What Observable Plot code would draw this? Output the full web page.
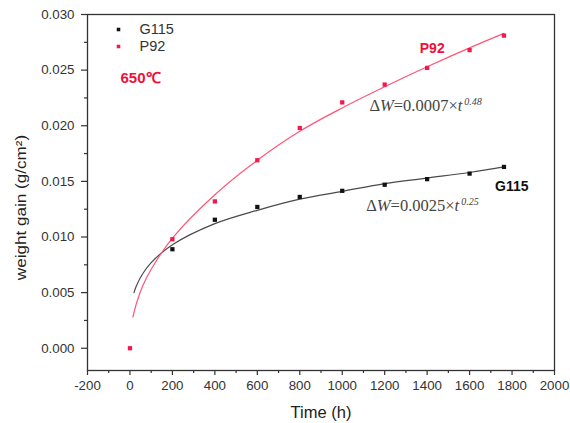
<!DOCTYPE html>
<html>
<head>
<meta charset="utf-8">
<script src="https://cdn.jsdelivr.net/npm/d3@7"></script>
<script src="https://cdn.jsdelivr.net/npm/@observablehq/plot@0.6"></script>
<style>
  html, body { margin: 0; padding: 0; background: #fff; }
  #chart svg { display: block; }
</style>
</head>
<body>
<div id="chart"></div>
<script>
// Oxidation weight gain at 650 °C, measured points per alloy
const seriesNames = ["G115", "P92"];
const seriesColors = ["#111111", "#f5164a"];
const curveColors = ["#4a4a4a", "#ff5577"];

const g115Time = [200, 400, 600, 800, 1000, 1200, 1400, 1600, 1762];
const g115Gain = [0.0089, 0.01155, 0.0127, 0.0136, 0.01415, 0.0147, 0.0152, 0.0157, 0.0163];

const p92Time = [0, 200, 400, 600, 800, 1000, 1200, 1400, 1600, 1762];
const p92Gain = [0, 0.0098, 0.0132, 0.0169, 0.0198, 0.0221, 0.0237, 0.0252, 0.0268, 0.0281];

// Power-law fit curves, sampled along time
const g115FitTime = [19, 30, 60, 100, 200, 400, 600, 800, 1000, 1200, 1400, 1600, 1762];
const g115FitGain = [0.0050, 0.0056, 0.0067, 0.0077, 0.0093, 0.0112, 0.0124, 0.0134, 0.0141, 0.0148, 0.0153, 0.0158, 0.0163];
const p92FitTime = [14, 30, 60, 100, 200, 400, 600, 800, 1000, 1200, 1400, 1600, 1762];
const p92FitGain = [0.0028, 0.0040, 0.0056, 0.0071, 0.0099, 0.0138, 0.0169, 0.0195, 0.0216, 0.0235, 0.0253, 0.0270, 0.0283];

// Fit equations: ΔW = coefficient × t^exponent
const eqCoef = ["0.0025", "0.0007"];
const eqExp = ["0.25", "0.48"];
const eqTime = [1113, 1128];
const eqGain = [0.01277, 0.02184];

// Series name labels beside the curves
const nameLabelTime = [1799, 1424];
const nameLabelGain = [0.01457, 0.02698];

const temperatureLabel = "650℃";

const xTicks = d3.range(-200, 2001, 200);
const xMinor = d3.range(-100, 2000, 200);
const yTicks = [0, 0.005, 0.010, 0.015, 0.020, 0.025, 0.030];
const yMinor = [0.0025, 0.0075, 0.0125, 0.0175, 0.0225, 0.0275];

const points = [
  ...g115Time.map((t, i) => ({series: "G115", t, w: g115Gain[i]})),
  ...p92Time.map((t, i) => ({series: "P92", t, w: p92Gain[i]}))
];
const fits = [
  ...g115FitTime.map((t, i) => ({series: "G115", t, w: g115FitGain[i]})),
  ...p92FitTime.map((t, i) => ({series: "P92", t, w: p92FitGain[i]}))
];
const equations = seriesNames.map((s, i) => ({series: s, t: eqTime[i], w: eqGain[i], coef: eqCoef[i], exp: eqExp[i]}));
const nameLabels = seriesNames.map((s, i) => ({series: s, t: nameLabelTime[i], w: nameLabelGain[i]}));

const font = "'Liberation Sans', Arial, sans-serif";
const axisColor = "#333";

// Legend rows in the upper-left corner of the frame
const legendMarks = seriesNames.flatMap((s, i) => [
  Plot.dot([s], {frameAnchor: "top-left", dx: 31, dy: 15 + i * 17, symbol: "square", r: 2, fill: seriesColors[i], stroke: "none"}),
  Plot.text([s], {frameAnchor: "top-left", dx: 52, dy: 15 + i * 17, lineAnchor: "middle", textAnchor: "start", fontSize: 14.5, fill: "#333"})
]);

const plot = Plot.plot({
  width: 570,
  height: 423,
  marginLeft: 87,
  marginRight: 16,
  marginTop: 14,
  marginBottom: 53,
  style: {fontFamily: font, background: "#fff"},
  x: {domain: [-200, 2000]},
  y: {domain: [-0.002, 0.030]},
  marks: [
    Plot.frame({stroke: axisColor, strokeWidth: 1.3}),
    // major and minor ticks
    Plot.axisX({ticks: xTicks, tickFormat: d => `${d}`, tickSize: 5, tickPadding: 5, fontSize: 13.3, color: axisColor, label: null, strokeWidth: 1.2}),
    Plot.axisX({ticks: xMinor, tickSize: 3, text: null, label: null, color: axisColor, strokeWidth: 1.2}),
    Plot.axisY({ticks: yTicks, tickFormat: d => d.toFixed(3), tickSize: 6, tickPadding: 7, fontSize: 13.3, color: axisColor, label: null, strokeWidth: 1.2}),
    Plot.axisY({ticks: yMinor, tickSize: 3, text: null, label: null, color: axisColor, strokeWidth: 1.2}),
    // axis titles
    Plot.text(["Time (h)"], {frameAnchor: "bottom", dy: 42, lineAnchor: "middle", fontSize: 16.5, fill: "#222"}),
    Plot.text(["weight gain (g/cm²)"], {frameAnchor: "left", dx: -66, dy: 15, rotate: -90, textAnchor: "middle", lineAnchor: "middle", fontSize: 15, fill: "#222", className: "y-title"}),
    // fit curves
    Plot.line(fits, {x: "t", y: "w", z: "series", stroke: d => curveColors[seriesNames.indexOf(d.series)], strokeWidth: 1.2, curve: "catmull-rom"}),
    // measured points
    Plot.dot(points, {x: "t", y: "w", symbol: "square", r: 2.4, fill: d => seriesColors[seriesNames.indexOf(d.series)], stroke: "none"}),
    ...legendMarks,
    Plot.text([temperatureLabel], {frameAnchor: "top-left", dx: 33, dy: 64, lineAnchor: "middle", textAnchor: "start", fontSize: 15, fontWeight: "bold", fill: "#f0103c"}),
    // series names beside curves
    Plot.text(nameLabels, {x: "t", y: "w", text: "series", fontSize: 14, fontWeight: "bold", fill: d => d.series === "P92" ? "#f0103c" : "#111"}),
    // fit equations (rebuilt with italics and exponents below)
    Plot.text(equations, {x: "t", y: "w", text: d => `ΔW=${d.coef}×t${d.exp}`, textAnchor: "start", fontSize: 16.5, fill: "#444", className: "fit-eq"})
  ]
});

// Stretch the y title slightly along its length, as in the typeset figure
d3.select(plot).selectAll(".y-title text").attr("transform", function() {
  return (this.getAttribute("transform") || "") + " scale(1.14,1)";
});

// Typeset the fit equations: italic W and t, raised exponent
d3.select(plot).selectAll(".fit-eq text").each(function(i) {
  const d = equations[typeof i === "number" ? i : 0];
  const el = d3.select(this);
  el.text(null).style("font-family", "'Liberation Serif', 'Times New Roman', serif");
  el.append("tspan").text("Δ");
  el.append("tspan").attr("font-style", "italic").text("W");
  el.append("tspan").text(`=${d.coef}×`);
  el.append("tspan").attr("font-style", "italic").text("t");
  el.append("tspan").attr("font-size", "10").attr("font-style", "italic").attr("dy", "-0.6em").attr("dx", "2").text(d.exp);
});

document.getElementById("chart").appendChild(plot);
</script>
</body>
</html>
